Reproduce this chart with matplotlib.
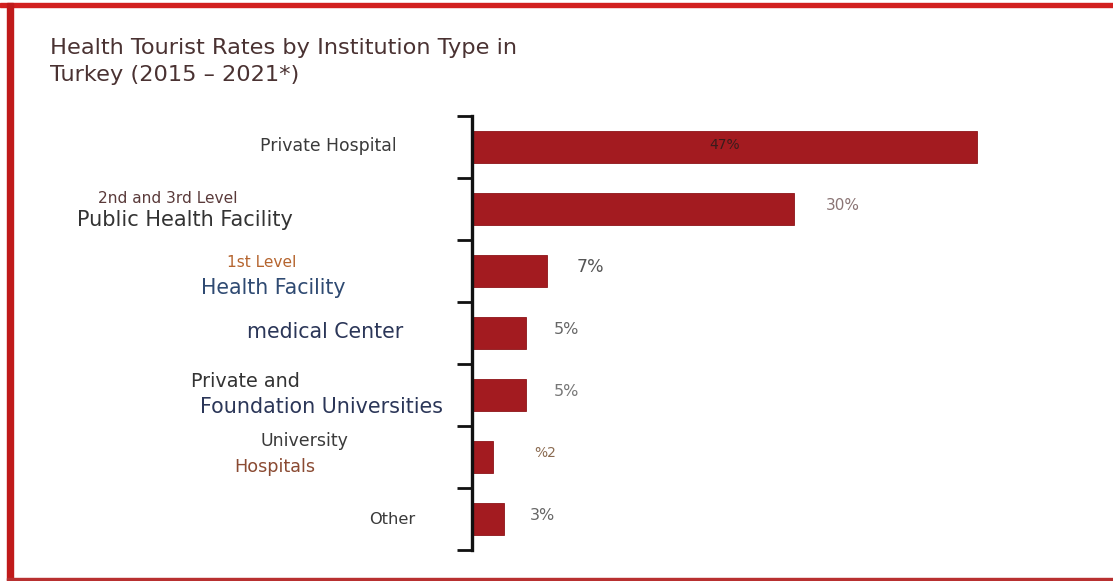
import matplotlib
matplotlib.use("Agg")
import matplotlib.pyplot as plt
from matplotlib.patches import Rectangle
from matplotlib.transforms import blended_transform_factory

plt.rcParams['font.family'] = ['DejaVu Sans']

# ---- data ----
categories = ["Private Hospital",
              "2nd and 3rd Level Public Health Facility",
              "1st Level Health Facility",
              "medical Center",
              "Private and Foundation Universities",
              "University Hospitals",
              "Other"]
values = [47, 30, 7, 5, 5, 2, 3]
value_labels = ["47%", "30%", "7%", "5%", "5%", "%2", "3%"]
title_lines = ["Health Tourist Rates by Institution Type in", "Turkey (2015 \u2013 2021*)"]

label_parts = [
    ["Private Hospital"],
    ["2nd and 3rd Level", "Public Health Facility"],
    ["1st Level", "Health Facility"],
    ["medical Center"],
    ["Private and", "Foundation Universities"],
    ["University", "Hospitals"],
    ["Other"],
]

# ---- styles / positions ----
W, H = 1113, 581
fig = plt.figure(figsize=(W / 100, H / 100), dpi=100)
fig.patch.set_facecolor('white')

ax_left, ax_right, ax_top, ax_bot = 472, 1009, 116, 550
ax = fig.add_axes([ax_left / W, 1 - ax_bot / H, (ax_right - ax_left) / W, (ax_bot - ax_top) / H])
bar_color = '#a31b20'
y = list(range(len(categories)))
ax.barh(y, values, height=0.51, color=bar_color, edgecolor='#8e1418', linewidth=0.6)
ax.set_xlim(0, 50)
ax.set_ylim(len(categories) - 0.5, -0.5)
for s in ['top', 'right', 'bottom']:
    ax.spines[s].set_visible(False)
ax.spines['left'].set_linewidth(2.4)
ax.spines['left'].set_color('#111111')
ax.set_xticks([])
ax.set_yticks([i - 0.5 for i in range(len(categories) + 1)])
ax.set_yticklabels([])
ax.tick_params(axis='y', length=11, width=2.0, color='#111111', direction='out')

# value labels
val_offsets = [None, 4.5, 4.0, 3.8, 3.8, 4.8, 3.6]
val_sizes = [10, 11, 12.5, 11.5, 11.5, 10, 11.5]
val_colors = ['#3a1c1c', '#8a7474', '#555555', '#666666', '#777777', '#8a6a50', '#666666']
for i, (v, lab) in enumerate(zip(values, value_labels)):
    if val_offsets[i] is None:
        ax.text(v / 2, i - 0.04, lab, ha='center', va='center', fontsize=val_sizes[i],
                color=val_colors[i])
    else:
        ax.text(v + val_offsets[i], i - 0.06, lab, ha='center', va='center',
                fontsize=val_sizes[i], color=val_colors[i])

# category labels (multi-line, multi-colour)
unit = (ax_bot - ax_top) / len(categories)
tr = blended_transform_factory(fig.transFigure, ax.transData)
part_styles = [
    [(328, -1, 12.4, '#3a3a3a')],
    [(168, -11, 11.1, '#5a3a3a'), (185, 11, 15.0, '#333333')],
    [(262, -8.5, 11.1, '#b5642e'), (273, 16.5, 14.8, '#2f4a72')],
    [(325, -1.5, 14.8, '#2b3658')],
    [(245, -13.5, 13.8, '#333333'), (322, 11.5, 14.9, '#2b3658')],
    [(304, -16.5, 12.5, '#3a3a3a'), (275, 9.5, 12.7, '#8a4a32')],
    [(392, 0.5, 11.7, '#3a3a3a')],
]
for i, parts in enumerate(label_parts):
    for txt, (xc, dy, fs, col) in zip(parts, part_styles[i]):
        ax.text(xc / W, i + dy / unit, txt, transform=tr, ha='center', va='center',
                fontsize=fs, color=col, clip_on=False)

# title
fig.text(50 / W, 1 - 48 / H, title_lines[0], ha='left', va='center', fontsize=16.2, color='#4a3232')
fig.text(50 / W, 1 - 75 / H, title_lines[1], ha='left', va='center', fontsize=16.2, color='#4a3232')

# red border (top, left, bottom)
red = '#d2201f'
fig.patches.append(Rectangle((0, 1 - 7 / H), 1, 4 / H, transform=fig.transFigure, color=red, zorder=10))
fig.patches.append(Rectangle((7 / W, 0), 6 / W, 1 - 3 / H, transform=fig.transFigure, color='#c01a1a', zorder=10))
fig.patches.append(Rectangle((7 / W, 1 / H), 1 - 7 / W, 2.5 / H, transform=fig.transFigure, color='#b83030', zorder=10))

fig.savefig('out.png', dpi=100, facecolor='white')
